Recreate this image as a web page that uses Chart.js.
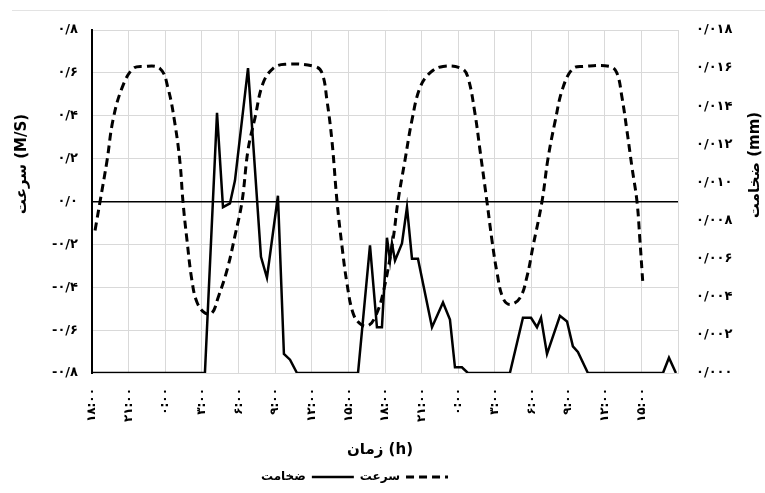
<!DOCTYPE html>
<html lang="fa">
<head>
<meta charset="utf-8">
<script src="https://cdn.jsdelivr.net/npm/chart.js@4.4.0/dist/chart.umd.min.js"></script>
<style>
  html, body { margin: 0; padding: 0; background: #fff; }
</style>
</head>
<body>
<canvas id="chart" width="765" height="493"></canvas>
<script>
// ساعت از شروع (۱۸:۰۰)
const velHours = [0.25, 0.66, 1.23, 1.72, 2.46, 3.36, 4.18, 5.57, 6.22, 6.80, 7.21, 7.45, 7.78, 8.19, 8.60, 9.25, 9.83, 10.32, 11.06, 11.71,
  12.29, 12.78, 13.35, 14.00, 14.82, 15.81, 18.26, 18.84, 19.25, 19.66, 20.07, 20.48, 20.88, 21.38, 21.95, 22.60, 23.18, 23.83,
  24.65, 25.06, 25.63, 26.21, 26.86, 27.68, 28.75, 30.30, 30.79, 31.37, 31.78, 32.35, 32.76, 33.17, 33.66, 34.23, 35.05, 35.63,
  36.12, 36.86, 37.35, 37.92, 38.57, 39.39, 40.21, 42.42, 42.99, 43.40, 43.82, 44.23, 44.64, 44.88, 45.13];
const velValues = [-0.135, 0, 0.19, 0.38, 0.53, 0.62, 0.63, 0.62, 0.53, 0.36, 0.18, 0, -0.18, -0.37, -0.47, -0.52, -0.52, -0.45, -0.32, -0.16,
  0, 0.24, 0.39, 0.55, 0.62, 0.64, 0.63, 0.60, 0.47, 0.28, 0, -0.21, -0.38, -0.52, -0.57, -0.58, -0.54, -0.43,
  -0.18, 0, 0.19, 0.38, 0.53, 0.60, 0.63, 0.62, 0.58, 0.41, 0.24, 0, -0.18, -0.33, -0.45, -0.48, -0.45, -0.35,
  -0.21, 0, 0.20, 0.37, 0.53, 0.62, 0.63, 0.63, 0.60, 0.49, 0.33, 0.16, 0, -0.18, -0.39];

const thickHours = [0, 9.25, 10.24, 10.73, 11.30, 11.71, 12.78, 13.84, 14.33, 15.23, 15.72, 16.22, 16.79, 21.79, 22.77, 23.34, 23.75,
  24.16, 24.41, 24.57, 24.82, 25.39, 25.80, 26.21, 26.70, 27.85, 28.75, 29.32, 29.73, 30.30, 30.79, 34.23, 35.30, 35.96, 36.45,
  36.78, 37.27, 38.33, 38.91, 39.39, 39.80, 40.62, 46.77, 47.26, 47.83];
const thickValues = [0, 0, 0.01365, 0.0087, 0.0089, 0.0101, 0.0160, 0.0061, 0.0050, 0.0093, 0.0010, 0.0007, 0, 0, 0.0067, 0.0024, 0.0024,
  0.0071, 0.0059, 0.0068, 0.0059, 0.0068, 0.0087, 0.0060, 0.0060, 0.0024, 0.0037, 0.0028, 0.0003, 0.0003, 0, 0, 0.0029, 0.0029, 0.0024,
  0.0029, 0.0010, 0.0030, 0.0027, 0.0014, 0.0011, 0, 0, 0.0008, 0];

const xTickLabels = ['۱۸:۰۰', '۲۱:۰۰', '۰:۰۰', '۳:۰۰', '۶:۰۰', '۹:۰۰', '۱۲:۰۰', '۱۵:۰۰',
  '۱۸:۰۰', '۲۱:۰۰', '۰:۰۰', '۳:۰۰', '۶:۰۰', '۹:۰۰', '۱۲:۰۰', '۱۵:۰۰'];
const leftTickLabels = ['۰/۸-', '۰/۶-', '۰/۴-', '۰/۲-', '۰/۰', '۰/۲', '۰/۴', '۰/۶', '۰/۸'];
const rightTickLabels = ['۰/۰۰۰', '۰/۰۰۲', '۰/۰۰۴', '۰/۰۰۶', '۰/۰۰۸', '۰/۰۱۰', '۰/۰۱۲', '۰/۰۱۴', '۰/۰۱۶', '۰/۰۱۸'];

const FONT = '"DejaVu Sans", sans-serif';
const GRID = '#d9d9d9';

// عنوان محورها و جابجایی راهنما
const axisTitles = {
  id: 'axisTitles',
  afterLayout(chart) {
    chart.legend.left -= 28;
    chart.legend.right -= 28;
  },
  afterDraw(chart) {
    const ctx = chart.ctx;
    ctx.save();
    ctx.fillStyle = '#000';
    ctx.font = 'bold 15px ' + FONT;
    ctx.textAlign = 'center';
    ctx.textBaseline = 'middle';
    ctx.save();
    ctx.translate(22, 164);
    ctx.rotate(-Math.PI / 2);
    ctx.fillText('(M/S) سرعت', 0, 0);
    ctx.restore();
    ctx.save();
    ctx.translate(755, 165);
    ctx.rotate(-Math.PI / 2);
    ctx.fillText('(mm) ضخامت', 0, 0);
    ctx.restore();
    ctx.fillText('(h) زمان', 380, 450);
    // خط بالای قاب
    ctx.strokeStyle = '#e3e3e3';
    ctx.lineWidth = 1;
    ctx.beginPath();
    ctx.moveTo(12, 10.5);
    ctx.lineTo(765, 10.5);
    ctx.stroke();
    ctx.restore();
  }
};

new Chart(document.getElementById('chart'), {
  type: 'line',
  data: {
    datasets: [{
      label: 'سرعت',
      data: velHours.map((h, i) => ({ x: h, y: velValues[i] })),
      yAxisID: 'y',
      borderColor: '#000',
      backgroundColor: '#000',
      borderWidth: 3,
      borderDash: [8, 5],
      tension: 0.4,
      pointRadius: 0
    }, {
      label: 'ضخامت',
      data: thickHours.map((h, i) => ({ x: h, y: thickValues[i] })),
      yAxisID: 'y1',
      borderColor: '#000',
      backgroundColor: '#000',
      borderWidth: 2.5,
      tension: 0,
      pointRadius: 0
    }]
  },
  options: {
    responsive: false,
    animation: false,
    layout: { padding: { top: 30, bottom: 0, left: 0, right: 0 } },
    plugins: {
      legend: {
        position: 'bottom',
        rtl: true,
        textDirection: 'rtl',
        labels: {
          usePointStyle: true,
          pointStyle: 'line',
          pointStyleWidth: 42,
          color: '#000',
          padding: 6,
          font: { family: FONT, size: 12, weight: 'bold' },
          generateLabels: chart => {
            const items = Chart.defaults.plugins.legend.labels.generateLabels(chart);
            items.forEach(it => {
              const ds = chart.data.datasets[it.datasetIndex];
              it.lineDash = ds.borderDash || [];
              it.lineWidth = ds.borderWidth;
              it.pointStyle = 'line';
            });
            return items;
          }
        }
      },
      tooltip: { enabled: false }
    },
    scales: {
      x: {
        type: 'linear',
        min: 0,
        max: 48,
        ticks: {
          stepSize: 3,
          autoSkip: false,
          minRotation: 90,
          maxRotation: 90,
          padding: 15,
          color: '#000',
          font: { family: FONT, size: 12, weight: 'bold' },
          callback: v => xTickLabels[Math.round(v / 3)] || ''
        },
        grid: { color: GRID, drawTicks: false },
        border: { color: GRID },
        afterFit: s => {
          const lg = s.chart.legend ? s.chart.legend.height : 0;
          s.height = s.chart.height - 373 - lg;
        }
      },
      y: {
        position: 'left',
        min: -0.8,
        max: 0.8,
        ticks: {
          stepSize: 0.2,
          padding: 14,
          color: '#000',
          font: { family: FONT, size: 13, weight: 'bold' },
          callback: v => leftTickLabels[Math.round((v + 0.8) / 0.2)]
        },
        grid: {
          drawTicks: false,
          color: c => Math.abs(c.tick.value) < 1e-9 ? '#000' : GRID,
          lineWidth: c => Math.abs(c.tick.value) < 1e-9 ? 1.5 : 1
        },
        border: { color: '#000', width: 2 },
        afterFit: s => { s.width = 92; }
      },
      y1: {
        position: 'right',
        min: 0,
        max: 0.018,
        ticks: {
          stepSize: 0.002,
          padding: 18,
          color: '#000',
          font: { family: FONT, size: 13, weight: 'bold' },
          callback: v => rightTickLabels[Math.round(v / 0.002)]
        },
        grid: { display: false, drawTicks: false },
        border: { display: false },
        afterFit: s => { s.width = 87; }
      }
    }
  },
  plugins: [axisTitles]
});
</script>
</body>
</html>
